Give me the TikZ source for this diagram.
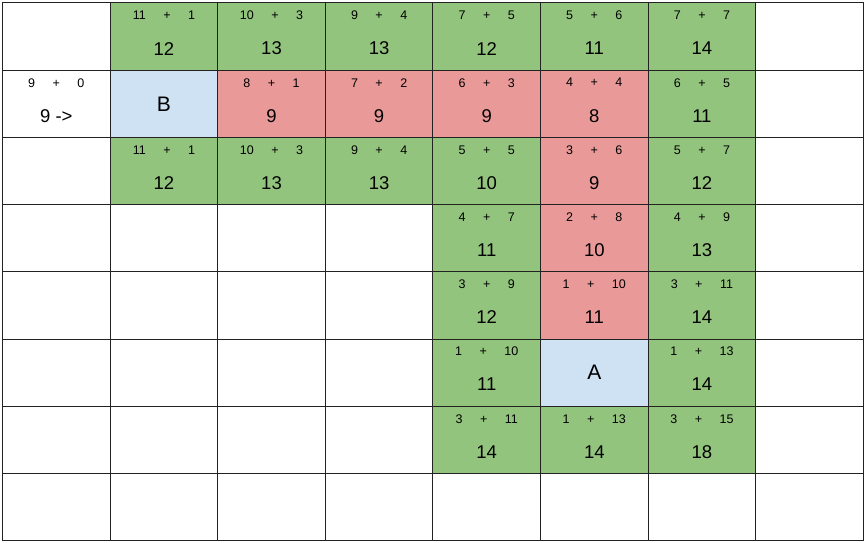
\documentclass[tikz,border=0pt]{standalone}
\usepackage{fontspec}
\setmainfont{Liberation Sans}
\definecolor{cG}{HTML}{93C47D}
\definecolor{cR}{HTML}{EA9999}
\definecolor{cB}{HTML}{CFE2F3}
\definecolor{gridc}{HTML}{222222}
\tikzset{
  cellbox/.style={draw=gridc, line width=1pt, minimum width=107.6pt, minimum height=67.2pt, inner sep=0pt, outer sep=0pt},
  small/.style={font=\fontsize{12.5}{12.5}\selectfont, inner sep=0pt},
  big/.style={font=\fontsize{18.5}{18.5}\selectfont, inner sep=0pt},
  letter/.style={font=\fontsize{21}{21}\selectfont, inner sep=0pt}
}
\newcommand{\sumtxt}[2]{#1\hspace{17.5pt}+\hspace{17.5pt}#2}
\begin{document}
\begin{tikzpicture}[x=1pt,y=-1pt]
\useasboundingbox (0,0) rectangle (865,543);
\fill[white] (0,0) rectangle (865,543);
% blank grid
\foreach \r in {0,...,7}{
  \foreach \c in {0,...,7}{
    \node[cellbox] (cell-\r-\c) at ({2.5+107.6*(\c+0.5)},{3+67.2*(\r+0.5)}) {};
  }
}
% coloured cells with sums
\foreach \r/\c/\col/\a/\b/\s in {
  0/1/G/11/1/12, 0/2/G/10/3/13, 0/3/G/9/4/13, 0/4/G/7/5/12, 0/5/G/5/6/11, 0/6/G/7/7/14,
  1/2/R/8/1/9, 1/3/R/7/2/9, 1/4/R/6/3/9, 1/5/R/4/4/8, 1/6/G/6/5/11,
  2/1/G/11/1/12, 2/2/G/10/3/13, 2/3/G/9/4/13, 2/4/G/5/5/10, 2/5/R/3/6/9, 2/6/G/5/7/12,
  3/4/G/4/7/11, 3/5/R/2/8/10, 3/6/G/4/9/13,
  4/4/G/3/9/12, 4/5/R/1/10/11, 4/6/G/3/11/14,
  5/4/G/1/10/11, 5/6/G/1/13/14,
  6/4/G/3/11/14, 6/5/G/1/13/14, 6/6/G/3/15/18}{
  \node[cellbox, fill=c\col] (col-\r-\c) at (cell-\r-\c) {};
  \node[small] (top-\r-\c) at ([yshift=21.1pt]col-\r-\c.center) {\sumtxt{\a}{\b}};
  \node[big] (sum-\r-\c) at ([yshift=-12pt]col-\r-\c.center) {\s};
}
% B and A
\node[cellbox, fill=cB] (B) at (cell-1-1) {};
\node[letter] (Blabel) at (B.center) {B};
\node[cellbox, fill=cB] (A) at (cell-5-5) {};
\node[letter] (Alabel) at (A.center) {A};
% start cell
\node[small] (start-top) at ([yshift=21.1pt]cell-1-0.center) {\sumtxt{9}{0}};
\node[big] (start-sum) at ([yshift=-12pt]cell-1-0.center) {9 ->};
\end{tikzpicture}
\end{document}
